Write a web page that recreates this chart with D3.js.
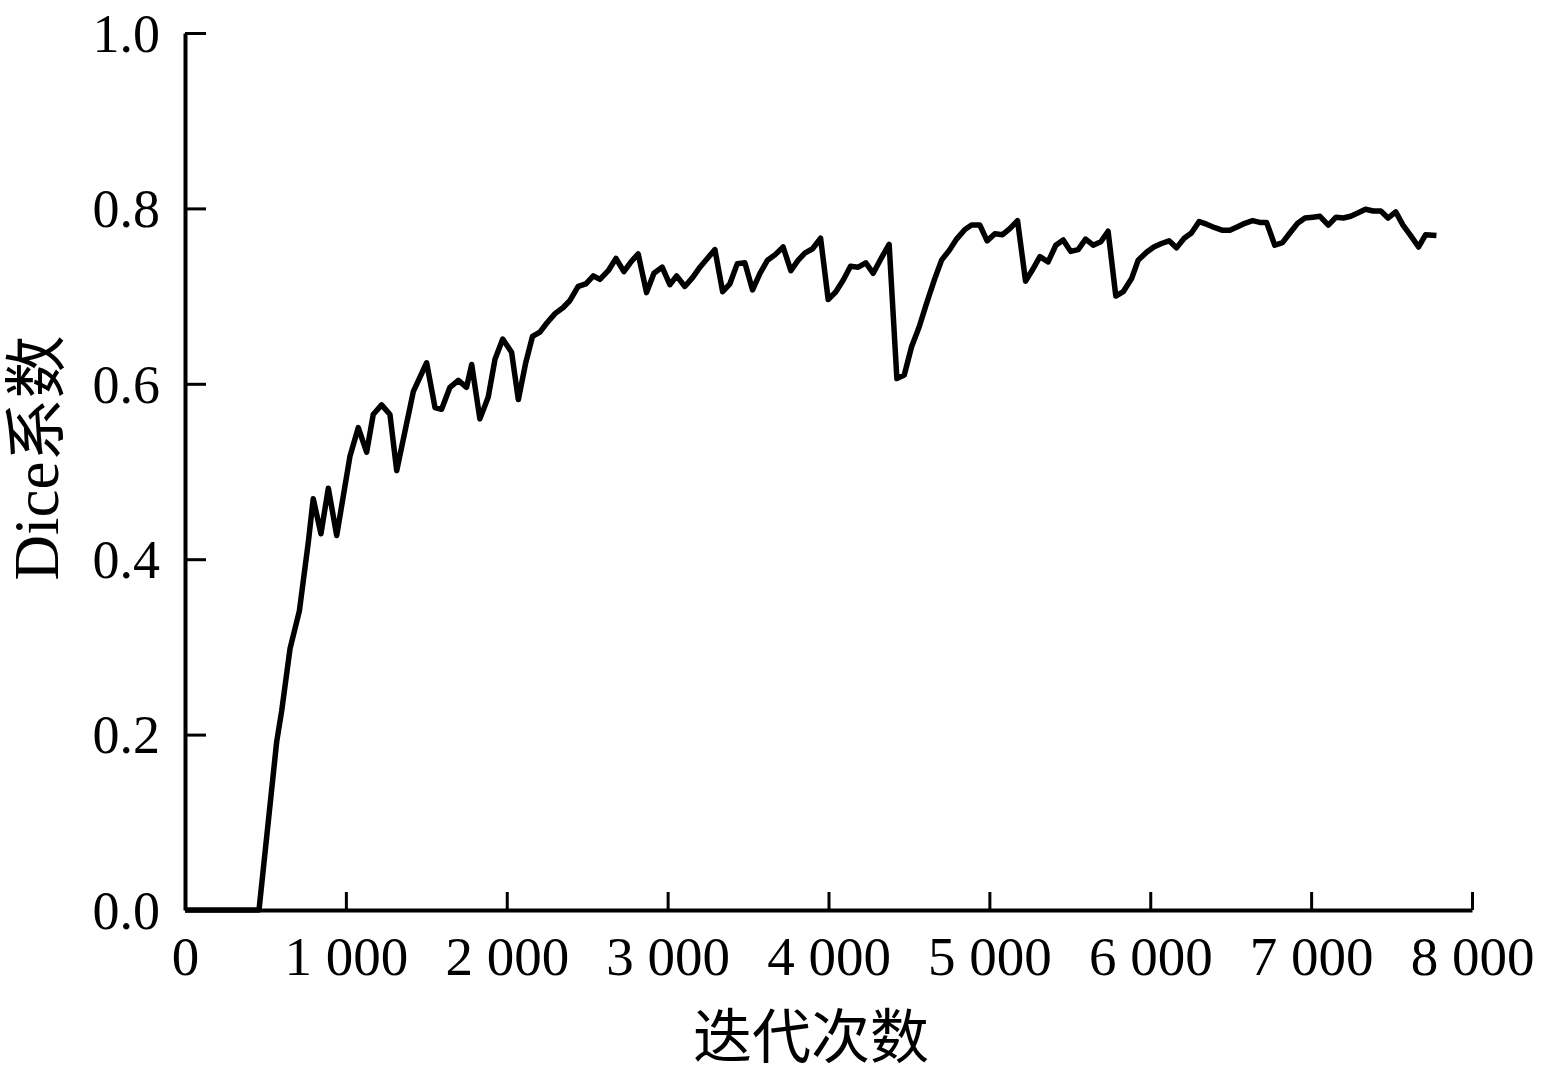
<!DOCTYPE html>
<html>
<head>
<meta charset="utf-8">
<script src="https://cdn.jsdelivr.net/npm/d3@7"></script>
<style>
  html, body { margin: 0; padding: 0; background: #fff; }
  svg { display: block; }
  .tick text { font-family: "Liberation Serif", "Times New Roman", serif; fill: #000; }
</style>
</head>
<body>
<svg id="chart" width="1551" height="1073"></svg>
<script>
const iterations = [0,460,570,601,653,711,767,797,845,891,943,1025,1077,1129,1170,1222,1274,1316,1419,1502,1554,1595,1647,1699,1750,1782,1833,1885,1927,1975,2030,2072,2118,2160,2206,2248,2300,2351,2393,2444,2492,2538,2579,2631,2679,2728,2776,2817,2869,2915,2966,3014,3056,3107,3155,3201,3252,3294,3342,3387,3433,3480,3528,3574,3621,3667,3718,3766,3812,3853,3901,3951,3998,4046,4091,4137,4185,4232,4278,4330,4377,4425,4471,4516,4564,4610,4657,4703,4754,4796,4848,4889,4941,4986,5034,5082,5127,5175,5225,5268,5314,5365,5413,5459,5505,5552,5598,5645,5693,5738,5786,5832,5884,5925,5977,6022,6070,6117,6163,6211,6256,6304,6350,6402,6450,6495,6543,6588,6636,6681,6723,6774,6822,6868,6916,6962,7010,7055,7107,7155,7200,7246,7293,7338,7385,7433,7478,7526,7571,7619,7668,7712,7779];
const diceValues = [0,0,0.192,0.227,0.298,0.341,0.420,0.469,0.429,0.481,0.427,0.517,0.550,0.522,0.565,0.576,0.565,0.501,0.591,0.624,0.573,0.571,0.596,0.604,0.596,0.622,0.560,0.585,0.628,0.651,0.636,0.582,0.624,0.654,0.659,0.669,0.680,0.687,0.695,0.711,0.714,0.723,0.719,0.729,0.743,0.728,0.740,0.748,0.704,0.726,0.733,0.713,0.723,0.711,0.721,0.733,0.744,0.753,0.705,0.714,0.737,0.738,0.707,0.726,0.741,0.747,0.756,0.729,0.741,0.749,0.754,0.766,0.696,0.705,0.718,0.734,0.733,0.738,0.726,0.744,0.759,0.606,0.610,0.642,0.665,0.692,0.718,0.741,0.753,0.765,0.776,0.781,0.781,0.763,0.771,0.770,0.777,0.786,0.717,0.730,0.745,0.739,0.758,0.764,0.751,0.753,0.765,0.758,0.762,0.774,0.700,0.705,0.720,0.741,0.750,0.756,0.760,0.763,0.755,0.766,0.772,0.785,0.782,0.778,0.775,0.775,0.779,0.783,0.786,0.784,0.784,0.758,0.761,0.772,0.783,0.789,0.790,0.791,0.781,0.790,0.789,0.791,0.795,0.799,0.797,0.797,0.789,0.796,0.781,0.769,0.756,0.770,0.769];

const xTickValues = [0,1000,2000,3000,4000,5000,6000,7000,8000];
const xTickLabels = ["0","1 000","2 000","3 000","4 000","5 000","6 000","7 000","8 000"];
const yTickValues = [0,0.2,0.4,0.6,0.8,1.0];
const yTickLabels = ["0.0","0.2","0.4","0.6","0.8","1.0"];
const xAxisTitle = "迭代次数";
const yAxisTitle = "Dice系数";

const svg = d3.select("#chart");
const x = d3.scaleLinear().domain([0, 8000]).range([185, 1472]);
const y = d3.scaleLinear().domain([0, 1]).range([910, 33]);

// X axis
const xAxis = d3.axisBottom(x)
  .tickValues(xTickValues)
  .tickFormat((d, i) => xTickLabels[i])
  .tickSizeInner(-18).tickSizeOuter(0).tickPadding(26);
const gx = svg.append("g").attr("transform", "translate(0,910)").call(xAxis);
gx.select(".domain").attr("stroke", "#000").attr("stroke-width", 4);
gx.selectAll(".tick line").attr("stroke", "#000").attr("stroke-width", 3)
  .filter(d => d === 0).remove();
gx.selectAll(".tick text").attr("font-size", 55).attr("dy", "0.71em");

// Y axis
const yAxis = d3.axisLeft(y)
  .tickValues(yTickValues)
  .tickFormat((d, i) => yTickLabels[i])
  .tickSizeInner(-21).tickSizeOuter(0).tickPadding(25);
const gy = svg.append("g").attr("transform", "translate(185,0)").call(yAxis);
gy.select(".domain").attr("stroke", "#000").attr("stroke-width", 4);
gy.selectAll(".tick line").attr("stroke", "#000").attr("stroke-width", 3);
gy.selectAll(".tick text").attr("font-size", 54).attr("dy", "0.34em");

// Line
const data = iterations.map((it, i) => ({it, v: diceValues[i]}));
const line = d3.line().x(d => x(d.it)).y(d => y(d.v));
svg.append("path").datum(data)
  .attr("d", line)
  .attr("fill", "none").attr("stroke", "#000")
  .attr("stroke-width", 5.5).attr("stroke-linejoin", "round").attr("stroke-linecap", "butt");

// Titles
svg.append("text")
  .attr("x", 811).attr("y", 1058)
  .attr("text-anchor", "middle")
  .attr("font-family", "'Liberation Serif', 'Noto Sans CJK SC', serif")
  .attr("font-size", 59).attr("fill", "#000")
  .text(xAxisTitle);

svg.append("text")
  .attr("transform", "translate(58,458) rotate(-90)")
  .attr("text-anchor", "middle")
  .attr("font-family", "'Liberation Serif', 'Noto Sans CJK SC', serif")
  .attr("font-size", 63).attr("fill", "#000")
  .text(yAxisTitle);
</script>
</body>
</html>
